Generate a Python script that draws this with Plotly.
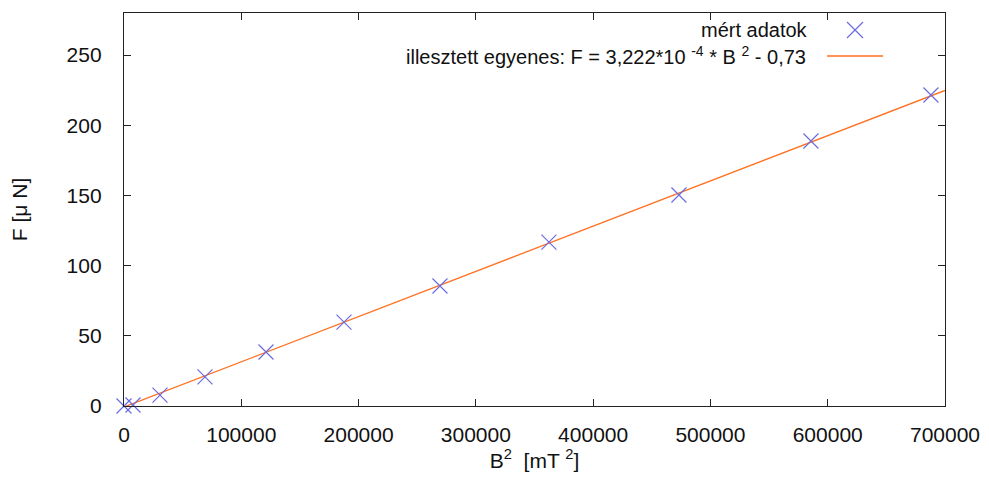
import plotly.graph_objects as go
import numpy as np

B2 = [0, 7670, 30690, 69050, 121060, 187560, 269400, 362300, 473150, 585700, 688000]
F = [0.0, 0.7, 7.8, 20.7, 38.5, 59.8, 85.5, 116.8, 150.3, 188.8, 221.6]

# fit parameters
slope = 3.222e-4
intercept = -0.73
fit_x = np.linspace(0, 700000, 50)
fit_y = slope * fit_x + intercept

x_ticks = [0, 100000, 200000, 300000, 400000, 500000, 600000, 700000]
y_ticks = [0, 50, 100, 150, 200, 250]

FONT = "Liberation Sans, Arial, sans-serif"
BLUE = "#6b6be0"
ORANGE = "#ff7020"

fig = go.Figure()
fig.add_trace(go.Scatter(x=fit_x, y=fit_y, mode="lines",
                         line=dict(color=ORANGE, width=1.3), name="fit", showlegend=False))
fig.add_trace(go.Scatter(x=B2, y=F, mode="markers",
                         marker=dict(symbol="x-thin", size=15, line=dict(color=BLUE, width=1.2)),
                         name="mért adatok", showlegend=False, cliponaxis=False))

axis_common = dict(showgrid=False, zeroline=False, showline=True, linecolor="#222",
                   linewidth=1.3, mirror="ticks", ticks="inside", ticklen=7,
                   tickcolor="#222", tickfont=dict(family=FONT, size=21, color="#111"))

fig.update_xaxes(range=[0, 700000], tickvals=x_ticks, ticktext=[str(v) for v in x_ticks],
                 ticklabelstandoff=10,
                 title=dict(text="B<sup>2</sup>  [mT <sup>2</sup>]", font=dict(family=FONT, size=21, color="#111"),
                            standoff=4), **axis_common)
fig.update_yaxes(range=[0, 280], tickvals=y_ticks, ticktext=[str(v) for v in y_ticks],
                 ticklabelstandoff=17,
                 title=dict(text="F [μ N]", font=dict(family=FONT, size=21, color="#111"),
                            standoff=36), **axis_common)

# legend (gnuplot style: text right-aligned, sample on the right)
fig.add_annotation(xref="paper", yref="paper", x=0.8356, y=0.9567,
                   text="mért adatok", showarrow=False, xanchor="right", yanchor="middle",
                   font=dict(family=FONT, size=20, color="#111"))
fig.add_annotation(xref="paper", yref="paper", x=0.8332, y=0.893,
                   text="illesztett egyenes: F = 3,222*10 <sup>-4</sup> * B <sup>2</sup> - 0,73",
                   showarrow=False, xanchor="right", yanchor="middle",
                   font=dict(family=FONT, size=20, color="#111"))
# legend marker sample (x) and line sample
mx, my, dx, dy = 0.8904, 0.9567, 8 / 821, 8 / 393
fig.add_shape(type="line", xref="paper", yref="paper", x0=mx - dx, x1=mx + dx, y0=my - dy, y1=my + dy,
              line=dict(color=BLUE, width=1.2))
fig.add_shape(type="line", xref="paper", yref="paper", x0=mx - dx, x1=mx + dx, y0=my + dy, y1=my - dy,
              line=dict(color=BLUE, width=1.2))
fig.add_shape(type="line", xref="paper", yref="paper", x0=0.8563, x1=0.9245, y0=0.8906, y1=0.8906,
              line=dict(color=ORANGE, width=1.3))

fig.update_layout(width=989, height=479, margin=dict(l=116, r=52, t=5, b=81),
                  plot_bgcolor="white", paper_bgcolor="white",
                  font=dict(family=FONT, size=21, color="#111"))

fig.write_html("out.html")
